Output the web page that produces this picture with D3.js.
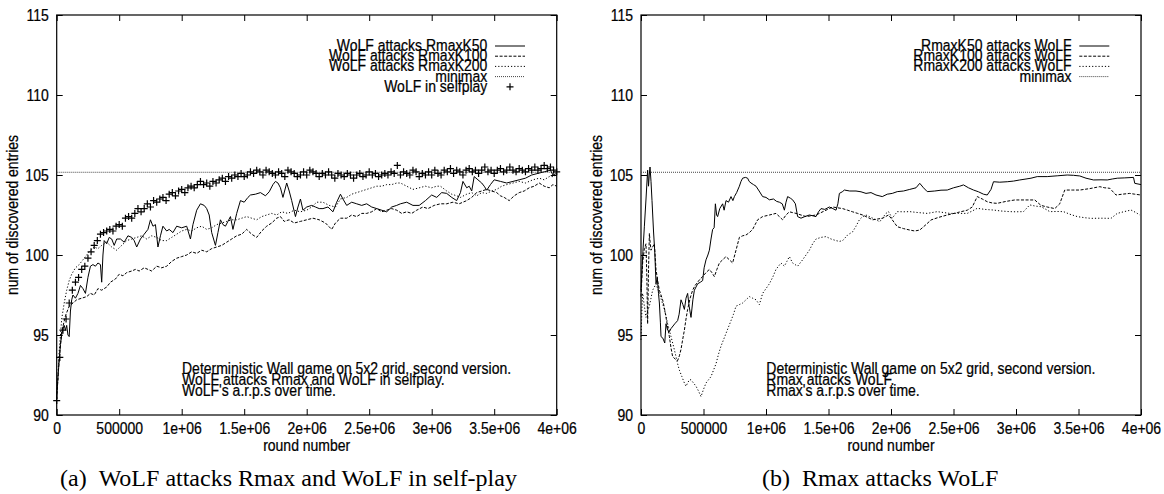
<!DOCTYPE html>
<html lang="en">
<head>
<meta charset="UTF-8">
<title>WoLF vs Rmax</title>
<script src="https://d3js.org/d3.v7.min.js"></script>
<style>
    body { margin: 0; background: #fff; }
    svg text { font-family: "Liberation Sans", Arial, sans-serif; font-size: 14px; fill: #000; stroke: #000; stroke-width: 0.2px; }
    .caption { font-family: "Liberation Serif", "Times New Roman", serif !important; font-size: 24px !important; stroke-width: 0 !important; }
    .tick line { stroke: #000; }
</style>
</head>
<body>
<svg width="1164" height="494"></svg>
<script>
// x values are in millions of rounds
var xTicks = [0, 0.5, 1, 1.5, 2, 2.5, 3, 3.5, 4];
var xTickLabels = ["0", "500000", "1e+06", "1.5e+06", "2e+06", "2.5e+06", "3e+06", "3.5e+06", "4e+06"];
var yTicks = [90, 95, 100, 105, 110, 115];
var minimax = 105.17;

// (a) WoLF attacks Rmax
var wolfK50 = [[0,91.0],[0.01,92.4],[0.02,93.4],[0.03,94.4],[0.04,95.0],[0.05,95.4],[0.06,95.6],[0.07,95.3],[0.08,95.6],[0.09,95.0],[0.1,94.9],[0.11,96.5],[0.12,97.2],[0.13,97.5],[0.15,97.3],[0.17,97.6],[0.19,98.1],[0.21,97.9],[0.23,97.6],[0.25,98.6],[0.27,99.3],[0.29,99.4],[0.31,99.3],[0.33,99.5],[0.35,99.4],[0.36,98.3],[0.37,100.0],[0.38,100.9],[0.4,100.7],[0.42,101.1],[0.44,101.0],[0.46,100.6],[0.48,101.0],[0.51,101.0],[0.54,100.8],[0.57,101.2],[0.6,101.1],[0.62,100.9],[0.64,100.5],[0.67,101.0],[0.7,101.3],[0.73,101.6],[0.75,102.2],[0.77,101.8],[0.79,101.9],[0.81,100.5],[0.83,101.2],[0.85,101.8],[0.88,101.5],[0.9,101.6],[0.93,101.4],[0.96,101.8],[1.0,101.7],[1.04,101.8],[1.07,101.0],[1.09,101.9],[1.12,102.8],[1.15,103.2],[1.18,103.1],[1.2,102.9],[1.22,102.5],[1.24,101.4],[1.27,100.6],[1.29,101.4],[1.31,102.2],[1.33,101.9],[1.35,101.8],[1.37,102.1],[1.39,102.4],[1.41,101.6],[1.44,102.6],[1.47,103.4],[1.5,103.3],[1.53,103.6],[1.55,103.75],[1.59,103.8],[1.63,103.9],[1.67,103.7],[1.7,103.95],[1.73,104.4],[1.75,104.6],[1.77,104.5],[1.79,104.2],[1.81,103.6],[1.84,104.5],[1.86,104.0],[1.88,103.4],[1.91,102.4],[1.93,103.0],[1.95,103.5],[1.97,102.8],[2.0,103.0],[2.04,103.1],[2.07,103.0],[2.1,102.9],[2.13,102.9],[2.17,103.0],[2.21,102.7],[2.24,103.3],[2.27,103.8],[2.29,103.5],[2.32,103.1],[2.36,103.3],[2.4,103.2],[2.44,103.1],[2.48,103.2],[2.52,103.0],[2.56,102.9],[2.6,102.8],[2.64,102.7],[2.68,103.0],[2.72,103.1],[2.75,103.2],[2.8,103.3],[2.85,103.1],[2.9,103.1],[2.95,103.4],[3.0,103.75],[3.04,103.6],[3.08,103.9],[3.12,103.85],[3.16,103.6],[3.2,103.4],[3.23,103.9],[3.25,104.6],[3.28,104.2],[3.3,104.3],[3.32,104.0],[3.34,104.9],[3.37,104.7],[3.4,104.5],[3.42,104.3],[3.44,104.05],[3.47,104.4],[3.5,104.7],[3.55,104.6],[3.6,104.5],[3.65,104.6],[3.7,104.7],[3.75,104.8],[3.8,105.0],[3.85,105.1],[3.9,105.2],[3.95,105.3],[3.97,105.0],[4.0,105.1]];
var wolfK100 = [[0,91.0],[0.02,93.5],[0.04,95.2],[0.07,96.2],[0.1,96.8],[0.13,97.0],[0.16,97.2],[0.2,97.3],[0.24,97.4],[0.27,97.6],[0.3,97.5],[0.33,97.9],[0.36,97.8],[0.4,98.0],[0.43,98.3],[0.47,98.5],[0.5,98.8],[0.53,98.7],[0.56,98.9],[0.6,99.0],[0.63,99.1],[0.66,99.0],[0.7,99.2],[0.73,99.1],[0.76,99.0],[0.8,99.3],[0.84,99.2],[0.88,99.3],[0.92,99.6],[0.96,99.8],[1.0,99.9],[1.04,100.0],[1.08,100.2],[1.12,100.1],[1.16,100.3],[1.2,100.2],[1.24,100.4],[1.28,100.5],[1.32,100.6],[1.36,100.8],[1.4,101.0],[1.44,101.2],[1.48,101.3],[1.52,101.6],[1.56,101.3],[1.6,101.1],[1.64,101.5],[1.68,101.8],[1.72,102.0],[1.76,102.3],[1.79,102.4],[1.82,102.1],[1.86,102.2],[1.9,102.0],[1.95,102.1],[2.0,102.2],[2.05,102.3],[2.1,102.2],[2.15,102.0],[2.2,101.6],[2.23,102.0],[2.27,102.3],[2.32,102.3],[2.36,102.5],[2.4,102.4],[2.44,102.6],[2.48,102.6],[2.52,102.7],[2.56,102.9],[2.6,102.7],[2.64,102.8],[2.68,102.9],[2.72,102.8],[2.76,102.6],[2.8,102.7],[2.84,102.6],[2.88,102.8],[2.93,103.0],[2.97,102.9],[3.02,103.1],[3.07,103.2],[3.12,103.2],[3.17,103.3],[3.22,103.2],[3.28,103.4],[3.32,103.6],[3.36,103.9],[3.4,104.0],[3.44,104.1],[3.48,104.0],[3.52,103.9],[3.55,103.7],[3.58,103.6],[3.62,103.4],[3.66,103.7],[3.7,103.9],[3.74,104.0],[3.78,104.2],[3.82,104.3],[3.86,104.5],[3.9,104.3],[3.94,104.2],[3.97,104.4],[4.0,104.3]];
var wolfK200 = [[0,91.0],[0.02,94.0],[0.04,96.0],[0.06,97.0],[0.08,97.8],[0.1,98.4],[0.12,98.8],[0.15,99.2],[0.18,99.4],[0.2,99.6],[0.23,99.9],[0.26,100.2],[0.3,100.5],[0.33,100.4],[0.36,100.6],[0.4,100.8],[0.44,100.5],[0.48,100.3],[0.52,100.6],[0.56,100.9],[0.6,101.0],[0.64,101.1],[0.68,101.2],[0.72,101.0],[0.76,101.2],[0.8,101.1],[0.84,100.9],[0.88,100.9],[0.92,101.1],[0.96,101.3],[1.0,101.5],[1.04,101.6],[1.08,101.5],[1.12,101.7],[1.16,101.8],[1.2,101.6],[1.24,101.7],[1.28,101.9],[1.32,102.0],[1.36,102.1],[1.4,102.2],[1.44,102.2],[1.48,102.3],[1.52,102.4],[1.56,102.3],[1.6,102.2],[1.64,102.4],[1.68,102.5],[1.72,102.6],[1.76,102.5],[1.8,102.7],[1.85,102.6],[1.9,102.8],[1.95,102.7],[2.0,102.8],[2.04,103.0],[2.08,103.3],[2.13,103.3],[2.18,103.1],[2.23,103.0],[2.27,103.5],[2.32,103.6],[2.36,103.8],[2.4,103.9],[2.44,104.0],[2.48,104.1],[2.52,104.2],[2.56,104.3],[2.6,104.3],[2.64,104.4],[2.68,104.4],[2.72,104.5],[2.75,104.5],[2.8,104.3],[2.85,104.1],[2.9,104.2],[2.95,104.3],[3.0,104.2],[3.04,104.3],[3.07,104.3],[3.12,104.0],[3.16,103.8],[3.2,103.7],[3.23,103.6],[3.28,103.8],[3.32,103.9],[3.36,103.7],[3.4,103.9],[3.44,103.85],[3.48,104.0],[3.52,104.1],[3.56,104.3],[3.6,104.4],[3.65,104.5],[3.7,104.6],[3.75,104.5],[3.81,104.7],[3.86,104.8],[3.9,104.7],[3.94,104.9],[3.97,104.9],[4.0,105.0]];
// WoLF in selfplay, one value every 25000 rounds from 0
var selfplayStep = 0.025;
var selfplay = [90.9,93.6,95.3,96.0,97.0,97.8,98.3,98.6,99.1,99.3,99.8,100.2,100.6,100.9,101.3,101.4,101.5,101.6,101.5,101.8,
    101.9,101.8,102.3,102.4,102.3,102.6,102.9,102.7,102.9,103.2,103.0,103.4,103.3,103.5,103.6,103.4,103.8,103.9,103.7,104.0,
    104.1,103.9,104.2,104.3,104.2,104.4,104.6,104.4,104.5,104.3,104.6,104.5,104.7,104.8,104.6,104.9,104.8,105.0,104.9,105.1,
    104.9,105.0,105.2,105.1,105.3,105.2,105.0,105.3,105.2,105.1,105.0,105.2,105.1,104.9,105.3,105.2,105.1,104.9,105.0,105.2,
    105.0,105.3,105.2,105.1,104.9,105.1,105.0,105.2,105.0,104.8,105.1,105.0,104.9,105.1,105.0,104.8,105.0,105.1,104.9,105.0,
    105.2,105.0,105.1,104.9,105.0,105.1,105.0,105.2,105.1,105.6,105.0,105.2,105.1,105.0,105.3,105.2,104.9,105.1,105.0,105.2,
    105.0,105.3,105.1,105.0,105.3,105.2,105.4,105.1,105.3,105.2,105.0,105.3,105.4,105.2,105.3,105.1,105.3,105.5,105.2,105.3,
    105.1,105.3,105.4,105.2,105.3,105.5,105.3,105.2,105.4,105.3,105.2,105.4,105.3,105.5,105.3,105.4,105.6,105.4,105.5,105.3,105.2];

// (b) Rmax attacks WoLF
var rmaxK50 = [[0,97.8],[0.015,100.2],[0.027,101.8],[0.04,103.5],[0.053,105.3],[0.06,104.3],[0.066,105.0],[0.072,105.5],[0.08,104.6],[0.088,103.4],[0.1,101.5],[0.11,100.2],[0.12,98.2],[0.13,98.6],[0.14,97.6],[0.147,97.0],[0.155,95.8],[0.16,94.9],[0.175,94.8],[0.19,94.5],[0.2,95.7],[0.213,95.3],[0.227,95.2],[0.24,95.4],[0.25,95.5],[0.27,95.7],[0.293,95.9],[0.305,96.3],[0.32,97.2],[0.335,96.9],[0.347,96.6],[0.36,97.3],[0.373,97.6],[0.385,96.8],[0.4,96.1],[0.415,97.2],[0.427,97.8],[0.44,98.0],[0.453,98.2],[0.475,98.3],[0.493,98.4],[0.505,99.2],[0.52,99.7],[0.535,100.0],[0.547,100.3],[0.56,101.0],[0.573,101.6],[0.585,101.7],[0.595,103.2],[0.605,102.5],[0.613,102.4],[0.63,102.9],[0.653,103.2],[0.665,102.8],[0.68,103.4],[0.7,103.3],[0.72,103.65],[0.735,103.4],[0.747,103.65],[0.765,103.9],[0.787,104.3],[0.8,104.6],[0.813,104.8],[0.835,104.85],[0.853,104.8],[0.865,104.6],[0.88,104.5],[0.9,104.4],[0.92,104.3],[0.945,104.0],[0.973,103.65],[1.0,103.6],[1.027,103.45],[1.06,103.5],[1.085,103.35],[1.107,103.3],[1.13,103.2],[1.147,102.8],[1.16,103.3],[1.173,103.65],[1.195,103.55],[1.213,103.45],[1.235,103.2],[1.253,102.4],[1.28,102.3],[1.31,102.4],[1.347,102.5],[1.375,102.45],[1.4,102.4],[1.42,102.7],[1.44,102.9],[1.47,102.85],[1.507,103.0],[1.535,102.9],[1.56,102.8],[1.575,103.2],[1.587,103.85],[1.61,103.95],[1.627,104.06],[1.67,104.0],[1.72,104.0],[1.76,103.95],[1.8,103.85],[1.84,103.9],[1.88,103.75],[1.93,103.65],[1.97,103.8],[2.01,103.85],[2.05,103.96],[2.1,104.0],[2.15,104.1],[2.2,104.2],[2.23,104.48],[2.26,104.2],[2.29,103.96],[2.35,104.0],[2.4,104.05],[2.45,104.06],[2.5,104.2],[2.55,104.3],[2.58,104.38],[2.62,104.2],[2.66,104.06],[2.7,103.95],[2.74,103.8],[2.77,103.75],[2.8,104.1],[2.82,104.58],[2.87,104.55],[2.93,104.58],[2.98,104.62],[3.03,104.69],[3.08,104.75],[3.12,104.8],[3.17,104.9],[3.25,104.9],[3.33,104.95],[3.41,105.0],[3.46,104.98],[3.51,104.94],[3.56,104.8],[3.62,104.69],[3.68,104.7],[3.73,104.69],[3.77,104.75],[3.81,104.8],[3.87,104.82],[3.94,104.85],[3.95,104.48],[4.0,104.4]];
var rmaxK100 = [[0,97.4],[0.013,99.5],[0.027,100.4],[0.04,100.7],[0.047,98.5],[0.053,95.7],[0.06,99.0],[0.067,101.35],[0.073,100.8],[0.08,100.3],[0.093,100.5],[0.107,100.7],[0.12,99.1],[0.133,98.4],[0.147,97.8],[0.16,97.5],[0.173,97.2],[0.187,96.7],[0.2,96.1],[0.213,95.5],[0.227,94.9],[0.24,94.2],[0.253,93.65],[0.273,93.5],[0.293,93.4],[0.307,93.7],[0.32,94.1],[0.333,94.7],[0.347,95.3],[0.36,96.0],[0.373,96.6],[0.393,97.3],[0.413,97.8],[0.433,98.1],[0.453,98.3],[0.473,98.5],[0.493,98.65],[0.52,98.9],[0.547,99.1],[0.567,98.9],[0.587,98.65],[0.607,99.1],[0.627,99.5],[0.653,99.7],[0.68,99.9],[0.707,99.7],[0.733,99.5],[0.76,100.3],[0.787,101.1],[0.813,101.2],[0.84,101.25],[0.867,101.4],[0.893,101.6],[0.913,101.9],[0.933,102.2],[0.953,102.3],[0.973,102.4],[1.0,102.45],[1.027,102.5],[1.053,102.55],[1.08,102.6],[1.107,102.4],[1.133,102.2],[1.16,102.5],[1.187,102.7],[1.213,102.65],[1.24,102.6],[1.28,102.5],[1.32,102.4],[1.36,102.45],[1.4,102.5],[1.44,102.65],[1.48,102.8],[1.507,102.9],[1.533,103.0],[1.573,102.95],[1.613,102.9],[1.653,102.8],[1.693,102.7],[1.733,102.6],[1.773,102.5],[1.813,102.35],[1.853,102.2],[1.893,102.25],[1.933,102.3],[1.98,102.5],[2.01,102.2],[2.05,101.77],[2.1,101.65],[2.15,101.56],[2.19,101.5],[2.23,101.56],[2.28,101.9],[2.32,102.19],[2.38,102.35],[2.45,102.5],[2.53,102.65],[2.61,102.8],[2.65,103.0],[2.69,103.65],[2.73,103.5],[2.77,103.33],[2.81,103.25],[2.85,103.23],[2.92,103.35],[2.99,103.44],[3.07,103.44],[3.15,103.44],[3.2,103.1],[3.25,103.0],[3.31,102.9],[3.35,103.2],[3.38,103.85],[3.39,104.06],[3.45,104.06],[3.51,104.06],[3.59,104.15],[3.67,104.27],[3.71,104.2],[3.75,104.17],[3.8,103.75],[3.85,103.8],[3.91,103.85],[3.95,103.8],[4.0,103.75]];
var rmaxK200 = [[0,94.7],[0.007,96.5],[0.013,97.6],[0.027,96.8],[0.04,96.1],[0.053,96.5],[0.067,96.8],[0.08,97.3],[0.093,97.8],[0.107,98.0],[0.12,98.2],[0.133,97.9],[0.147,97.6],[0.167,97.1],[0.187,96.6],[0.2,96.2],[0.213,95.7],[0.227,95.3],[0.24,94.9],[0.26,94.3],[0.28,93.65],[0.293,93.2],[0.307,92.8],[0.327,92.4],[0.347,92.0],[0.36,91.8],[0.373,92.0],[0.387,92.2],[0.4,92.2],[0.42,92.0],[0.44,91.8],[0.46,91.5],[0.48,91.15],[0.5,91.6],[0.52,92.0],[0.54,92.2],[0.56,92.4],[0.58,92.8],[0.6,93.2],[0.62,93.8],[0.64,94.3],[0.66,94.7],[0.68,95.1],[0.7,95.5],[0.72,95.9],[0.74,96.3],[0.76,96.8],[0.787,96.9],[0.813,97.0],[0.84,97.2],[0.867,97.4],[0.893,97.3],[0.92,97.2],[0.947,96.9],[0.973,97.6],[1.0,97.9],[1.027,98.2],[1.053,98.6],[1.08,99.1],[1.1,99.3],[1.12,99.5],[1.147,99.3],[1.167,99.6],[1.187,99.9],[1.213,99.5],[1.233,99.4],[1.253,99.3],[1.273,99.5],[1.293,99.7],[1.32,100.0],[1.347,100.3],[1.373,100.7],[1.4,101.0],[1.44,101.1],[1.48,101.15],[1.52,101.0],[1.56,100.9],[1.587,100.85],[1.613,100.9],[1.653,101.25],[1.693,101.45],[1.72,101.8],[1.747,102.2],[1.773,102.4],[1.8,102.5],[1.84,102.35],[1.88,102.2],[1.91,102.08],[1.94,102.4],[1.96,102.6],[1.98,102.71],[2.01,102.3],[2.05,102.71],[2.1,102.7],[2.15,102.71],[2.22,102.65],[2.29,102.6],[2.37,102.71],[2.47,102.6],[2.54,102.6],[2.61,102.6],[2.65,102.75],[2.69,102.92],[2.75,102.85],[2.82,102.81],[2.88,102.75],[2.95,102.71],[3.0,102.7],[3.06,102.71],[3.11,103.13],[3.16,103.05],[3.2,103.02],[3.24,102.85],[3.27,102.71],[3.33,102.72],[3.38,102.71],[3.43,102.55],[3.49,102.4],[3.55,102.33],[3.6,102.29],[3.68,102.3],[3.76,102.29],[3.81,102.6],[3.86,102.7],[3.92,102.81],[3.96,102.65],[3.99,102.5]];

var legendA = ["WoLF attacks RmaxK50", "WoLF attacks RmaxK100", "WoLF attacks RmaxK200", "minimax", "WoLF in selfplay"];
var legendB = ["RmaxK50 attacks WoLF", "RmaxK100 attacks WoLF", "RmaxK200 attacks WoLF", "minimax"];
var notesA = ["Deterministic Wall game on 5x2 grid, second version.", "WoLF attacks Rmax and WoLF in selfplay.", "WoLF's a.r.p.s over time."];
var notesB = ["Deterministic Wall game on 5x2 grid, second version.", "Rmax attacks WoLF.", "Rmax's a.r.p.s over time."];

var styles = [
    { dash: null, color: "#000" },
    { dash: "3,1.6", color: "#000" },
    { dash: "1.2,2", color: "#000" },
    { dash: "1,1", color: "#444" }
];

var svg = d3.select("svg");
var plotW = 500, plotTop = 15, plotBottom = 415;
var stretch = 1.18; // the source's text is a little taller than wide

function label(g, x, y, s, anchor) {
    return g.append("text")
        .attr("transform", "translate(" + x + "," + y + ") scale(1," + stretch + ")")
        .attr("text-anchor", anchor || "start").text(s);
}

function plus(g, cx, cy) {
    g.append("path")
        .attr("d", "M" + (cx - 3.5) + "," + cy + "H" + (cx + 3.5) + "M" + cx + "," + (cy - 3.5) + "V" + (cy + 3.5))
        .attr("stroke", "#000").attr("stroke-width", 1.2).attr("fill", "none");
}

function drawPanel(x0, series, legend, notes, captionTag, captionText, capX, withSelfplay) {
    var x = d3.scaleLinear().domain([0, 4]).range([x0, x0 + plotW]);
    var y = d3.scaleLinear().domain([90, 115]).range([plotBottom, plotTop]);
    var g = svg.append("g");

    g.append("g").attr("transform", "translate(0," + plotBottom + ")")
        .call(d3.axisBottom(x).tickValues(xTicks).tickSizeInner(-6).tickSizeOuter(0)
            .tickFormat(function(d, i) { return xTickLabels[i]; }))
        .call(function(a) {
            a.select(".domain").remove();
            a.selectAll("text").attr("font-size", 14).attr("font-family", null)
                .attr("y", null).attr("dy", null)
                .attr("transform", "translate(0,18.5) scale(1," + stretch + ")");
        });
    g.append("g").attr("transform", "translate(0," + plotTop + ")")
        .call(d3.axisTop(x).tickValues(xTicks).tickSizeInner(-6).tickSizeOuter(0).tickFormat(""))
        .call(function(a) { a.select(".domain").remove(); });
    g.append("g").attr("transform", "translate(" + x0 + ",0)")
        .call(d3.axisLeft(y).tickValues(yTicks).tickSizeInner(-6).tickSizeOuter(0))
        .call(function(a) {
            a.select(".domain").remove();
            a.selectAll("text").attr("font-size", 14).attr("font-family", null)
                .attr("x", null).attr("dy", null)
                .attr("transform", "translate(-8,5.8) scale(1," + stretch + ")");
        });
    g.append("g").attr("transform", "translate(" + (x0 + plotW) + ",0)")
        .call(d3.axisRight(y).tickValues(yTicks).tickSizeInner(-6).tickSizeOuter(0).tickFormat(""))
        .call(function(a) { a.select(".domain").remove(); });

    g.append("rect").attr("x", x0).attr("y", plotTop).attr("width", plotW).attr("height", plotBottom - plotTop)
        .attr("fill", "none").attr("stroke", "#000").attr("stroke-width", 1.2);

    g.append("text")
        .attr("transform", "translate(" + (x0 - 39) + "," + ((plotTop + plotBottom) / 2) + ") rotate(-90) scale(1," + stretch + ")")
        .attr("text-anchor", "middle").text("num of discovered entries");
    label(g, x0 + plotW / 2, 451, "round number", "middle");

    notes.forEach(function(t, i) {
        label(g, x0 + 125.3, 374 + i * 11, t);
    });

    var line = d3.line().x(function(d) { return x(d[0]); }).y(function(d) { return y(d[1]); });

    // minimax reference
    g.append("line").attr("x1", x0).attr("x2", x0 + plotW).attr("y1", y(minimax)).attr("y2", y(minimax))
        .attr("stroke", styles[3].color).attr("stroke-dasharray", styles[3].dash).attr("stroke-width", 1);

    series.forEach(function(s, i) {
        g.append("path").datum(s).attr("d", line).attr("fill", "none")
            .attr("stroke", styles[i].color).attr("stroke-width", 1)
            .attr("stroke-dasharray", styles[i].dash);
    });

    if (withSelfplay) {
        selfplay.forEach(function(v, i) { plus(g, x(i * selfplayStep), y(v)); });
    }

    // legend
    var lx = x0 + plotW;
    legend.forEach(function(t, i) {
        var by = 51 + i * 10.2;
        label(g, lx - 69.4, by, t, "end");
        if (i < 4) {
            g.append("line").attr("x1", lx - 61.7).attr("x2", lx - 31.7).attr("y1", by - 5).attr("y2", by - 5)
                .attr("stroke", styles[i].color).attr("stroke-width", 1).attr("stroke-dasharray", styles[i].dash);
        } else {
            plus(g, lx - 46.7, by - 5);
        }
    });

    var cap = svg.append("text").attr("class", "caption").attr("x", capX).attr("y", 486);
    cap.append("tspan").text(captionTag);
    cap.append("tspan").attr("dx", 12).text(captionText);
}

drawPanel(56.7, [wolfK50, wolfK100, wolfK200], legendA, notesA, "(a)", "WoLF attacks Rmax and WoLF in self-play", 60, true);
drawPanel(641, [rmaxK50, rmaxK100, rmaxK200], legendB, notesB, "(b)", "Rmax attacks WoLF", 762, false);
</script>
</body>
</html>
